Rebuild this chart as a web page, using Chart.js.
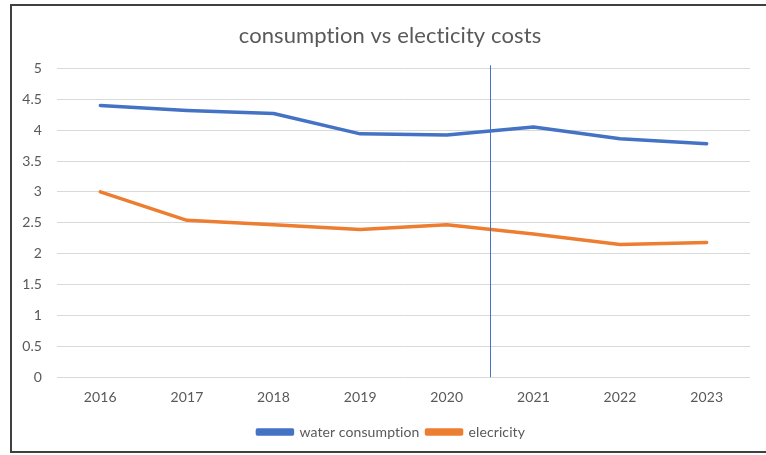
<!DOCTYPE html>
<html>
<head>
<meta charset="utf-8">
<script src="https://cdn.jsdelivr.net/npm/chart.js@4/dist/chart.umd.min.js"></script>
<style>
  html, body { margin:0; padding:0; background:#fff; overflow:hidden; }
  #frame {
    position:absolute; left:10px; top:4px; width:756px; height:449px;
    border:2px solid #404040; border-right:none; box-sizing:border-box;
  }
  #chart { display:block; }
</style>
</head>
<body>
<div id="frame"><canvas id="chart" width="756" height="445"></canvas></div>
<script>
// chart data
const years = ['2016','2017','2018','2019','2020','2021','2022','2023'];
const waterConsumption = [4.40, 4.32, 4.27, 3.94, 3.92, 4.05, 3.86, 3.78];
const electricity = [3.00, 2.54, 2.47, 2.39, 2.47, 2.32, 2.15, 2.18];
const yTicks = [0, 0.5, 1, 1.5, 2, 2.5, 3, 3.5, 4, 4.5, 5];
// vertical marker line (category index, y range)
const markerAt = 4.5;
const markerFrom = 0;
const markerTo = 5.05;

const FONT = 'Lato, "Open Sans", sans-serif';
const GREY = '#595959';

const markerLine = {
  id: 'markerLine',
  beforeDraw(chart){
    // tiny letter spacing keeps Lato from joining "ti"
    chart.ctx.letterSpacing = '0.1px';
  },
  afterDatasetsDraw(chart){
    const {ctx, scales:{x, y}} = chart;
    const px = Math.round(x.getPixelForValue(markerAt)) + 0.5;
    ctx.save();
    ctx.strokeStyle = '#4472C4';
    ctx.lineWidth = 1;
    ctx.beginPath();
    ctx.moveTo(px, y.getPixelForValue(markerTo));
    ctx.lineTo(px, y.getPixelForValue(markerFrom));
    ctx.stroke();
    ctx.restore();
  }
};

new Chart(document.getElementById('chart'), {
  type: 'line',
  data: {
    labels: years,
    datasets: [
      { label:'water consumption', data: waterConsumption, borderColor:'#4472C4', backgroundColor:'#4472C4' },
      { label:'elecricity', data: electricity, borderColor:'#ED7D31', backgroundColor:'#ED7D31' }
    ]
  },
  options: {
    responsive: false,
    animation: false,
    layout: { padding: { left: 0, right: 0, top: 0, bottom: 2 } },
    elements: {
      line: { borderWidth: 3.5, tension: 0, borderCapStyle: 'round', borderJoinStyle: 'round' },
      point: { radius: 0 }
    },
    plugins: {
      title: {
        display: true,
        text: 'consumption vs electicity costs',
        color: GREY,
        font: { family: FONT, size: 22, weight: 'normal' },
        padding: { top: 17, bottom: 19 }
      },
      legend: {
        position: 'bottom',
        labels: {
          color: GREY,
          font: { family: FONT, size: 14 },
          boxWidth: 35,
          boxHeight: 4,
          padding: 7
        }
      },
      tooltip: { enabled: false }
    },
    scales: {
      x: {
        offset: true,
        grid: { display: false, drawTicks: false },
        border: { display: false },
        ticks: { color: GREY, font: { family: FONT, size: 14 }, padding: 12, maxRotation: 0 }
      },
      y: {
        min: 0, max: 5,
        afterBuildTicks(scale){ scale.ticks = yTicks.map(v => ({ value: v })); },
        afterFit(scale){ scale.width = 45; },
        grid: { color: '#D9D9D9', lineWidth: 1, drawTicks: false },
        border: { display: false },
        ticks: { color: GREY, font: { family: FONT, size: 14 }, padding: 15, callback: v => String(v) }
      },
      // empty right-hand axis, only reserves the margin right of the plot
      yRight: {
        type: 'linear',
        position: 'right',
        afterFit(scale){ scale.width = 18; },
        grid: { display: false },
        border: { display: false },
        ticks: { display: false }
      }
    }
  },
  plugins: [markerLine]
});
</script>
</body>
</html>
